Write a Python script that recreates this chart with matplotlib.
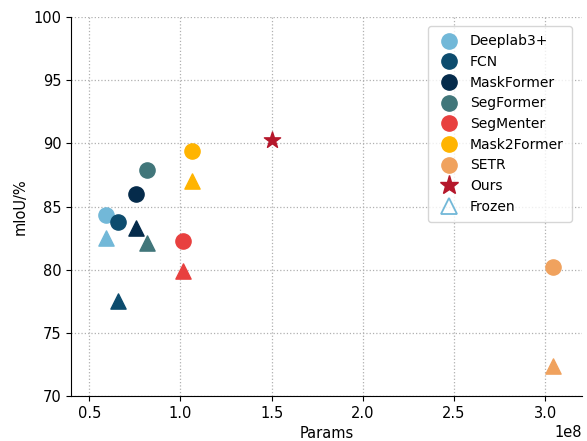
import matplotlib
matplotlib.use("Agg")
import matplotlib.pyplot as plt
from matplotlib.lines import Line2D

# model names, colours and measured values (params in units of 1e8)
models = ["Deeplab3+", "FCN", "MaskFormer", "SegFormer", "SegMenter", "Mask2Former", "SETR"]
colors = ["#72B8D8", "#0D4C6E", "#052B4B", "#41767A", "#E8403F", "#FFB400", "#F0A25E"]
params = [0.59, 0.655, 0.756, 0.814, 1.015, 1.066, 3.04]
miou_full = [84.3, 83.8, 86.0, 87.9, 82.3, 89.4, 80.2]
miou_frozen = [82.5, 77.5, 83.3, 82.1, 79.9, 87.0, 72.4]

ours_params = 1.5
ours_miou = 90.3
ours_color = "#B5172B"

fig = plt.figure(figsize=(5.87, 4.41), dpi=100)
ax = fig.add_axes([0.121, 0.102, 0.870, 0.859])

for name, c, p, full, froz in zip(models, colors, params, miou_full, miou_frozen):
    ax.scatter(p * 1e8, full, s=120, color=c, marker="o", zorder=3)
    ax.scatter(p * 1e8, froz, s=120, color=c, marker="^", zorder=3)
ax.scatter(ours_params * 1e8, ours_miou, s=150, color=ours_color, marker="*", zorder=3)

ax.set_xlim(0.4e8, 3.2e8)
ax.set_ylim(70, 100)
ax.set_xticks([0.5e8, 1.0e8, 1.5e8, 2.0e8, 2.5e8, 3.0e8])
ax.set_yticks([70, 75, 80, 85, 90, 95, 100])
ax.grid(True, linestyle=":", color="#b0b0b0", linewidth=0.9)
ax.set_axisbelow(True)
for side in ["top", "right"]:
    ax.spines[side].set_visible(False)
ax.tick_params(labelsize=10.5)
ax.xaxis.get_offset_text().set_fontsize(10.5)
ax.set_xlabel("Params", fontsize=10.5)
ax.set_ylabel("mIoU/%", fontsize=10.5)

# legend with one circle per model, then the star and an open triangle
handles = [Line2D([], [], linestyle="none", marker="o", markersize=11, color=c) for c in colors]
handles.append(Line2D([], [], linestyle="none", marker="*", markersize=14, color=ours_color))
handles.append(Line2D([], [], linestyle="none", marker="^", markersize=11,
                      markerfacecolor="none", markeredgecolor="#72B8D8", markeredgewidth=1.3))
labels = models + ["Ours", "Frozen"]
ax.legend(handles, labels, loc="upper right", fontsize=10, labelspacing=0.48,
          handlelength=1.8, handletextpad=0.6, borderpad=0.6,
          bbox_to_anchor=(0.995, 0.995))

fig.savefig("out.png", dpi=100)
